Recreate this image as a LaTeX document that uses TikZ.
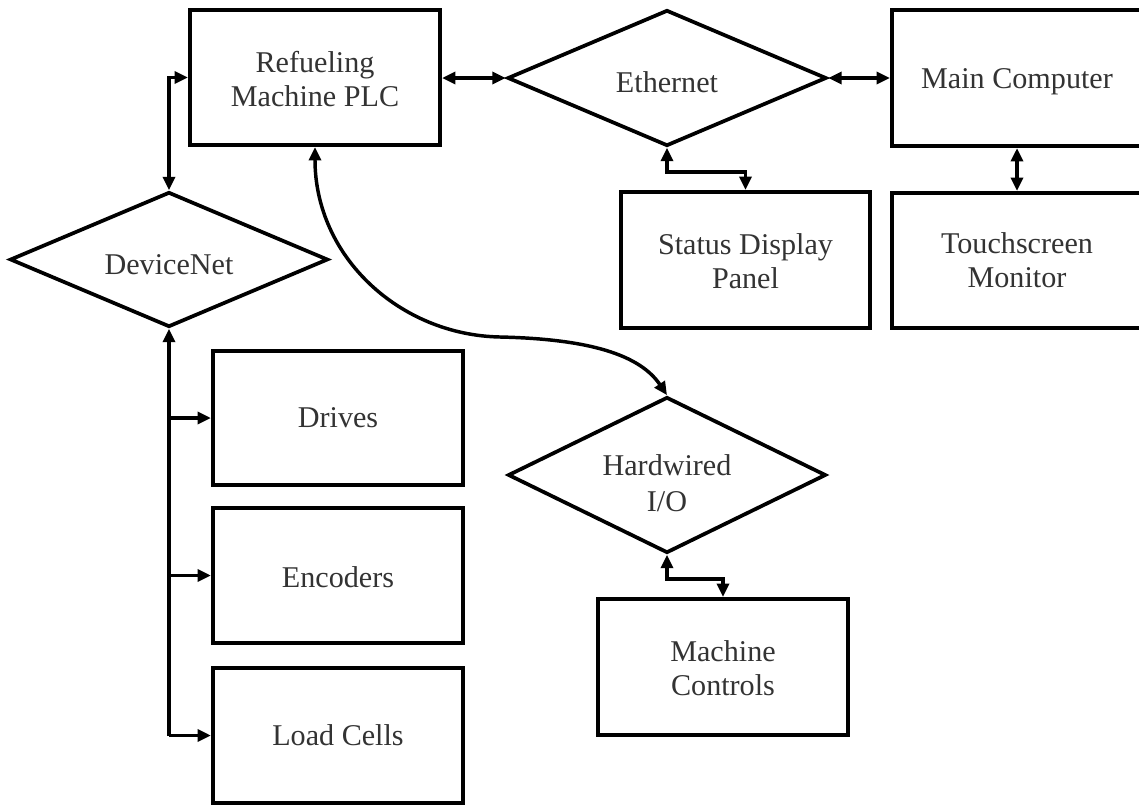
\documentclass[tikz,border=0pt]{standalone}
\usepackage{fontspec}
\setmainfont{Liberation Serif}
\usetikzlibrary{shapes.geometric,arrows.meta}
\newcommand\lift[1]{\rule{0pt}{#1}}
\tikzset{
  box/.style={draw=black, line width=3.2pt, rectangle, inner sep=0pt, align=center,
    text=black!80, font=\fontsize{22.6}{25.5}\selectfont},
  dia/.style={draw=black, line width=2.8pt, diamond, aspect=2.3, inner sep=0pt, align=center,
    text=black!80, font=\fontsize{22.6}{25.5}\selectfont},
  sz/.style 2 args={minimum width=0.75*#1 pt, minimum height=0.75*#2 pt},
  tip/.tip={Triangle[length=10pt,width=9pt]},
  link/.style={line width=2.6pt, tip-tip},
  onearrow/.style={line width=2.6pt, -tip},
}
\begin{document}
\begin{tikzpicture}[x=0.75pt,y=-0.75pt]
\clip (0,0) rectangle (1139,808);
\fill[white] (0,0) rectangle (1139,808);

\node[box, sz={250}{135}] (plc) at (315,77.5) {\lift{18pt}Refueling\\Machine PLC};
\node[dia, sz={319}{136}] (eth) at (667,78) {\lift{22.5pt}Ethernet};
\node[box, sz={250}{136}] (main) at (1017,78) {\lift{21pt}Main Computer};
\node[box, sz={249}{136}] (status) at (745.5,260) {\lift{18pt}Status Display\\Panel};
\node[box, sz={250}{135}] (touch) at (1017,260.5) {Touchscreen\\Monitor};
\node[dia, sz={318}{135}] (dnet) at (169,259.5) {\lift{23pt}DeviceNet};
\node[box, sz={250}{134}] (drives) at (338,418) {Drives};
\node[box, sz={250}{135}] (enc) at (338,575.5) {\lift{17.5pt}Encoders};
\node[box, sz={250}{135}] (load) at (338,735.5) {Load Cells};
\node[dia, sz={318}{156}] (hw) at (667,475) {\lift{28pt}Hardwired\\[2pt]I/O};
\node[box, sz={250}{136}] (mc) at (723,667) {\lift{17pt}Machine\\Controls};

% PLC <-> DeviceNet
\draw[link] (plc.west) -| (dnet.north);
% PLC <-> Ethernet
\draw[link] (plc.east |- eth.west) -- (eth.west);
% Ethernet <-> Main Computer
\draw[link] (eth.east) -- (main.west |- eth.east);
% Main Computer <-> Touchscreen
\draw[link] (main.south) -- (touch.north);
% Ethernet <-> Status
\draw[link] (eth.south) -- ++(0,24) -| (status.north);
% PLC <-> Hardwired (curve)
\draw[link] (plc.south) .. controls ++(0,110) and (400,335) .. (500,337)
  .. controls (590,339) and (640,355) .. (hw.north);
% Hardwired <-> Machine Controls
\draw[link] (hw.south) -- ++(0,24) -| (mc.north);
% DeviceNet bus
\draw[line width=2.6pt, tip-] (dnet.south) -- (dnet.south |- load.west);
\draw[onearrow] (dnet.south |- drives.west) -- (drives.west);
\draw[onearrow] (dnet.south |- enc.west) -- (enc.west);
\draw[onearrow] (dnet.south |- load.west) -- (load.west);
\end{tikzpicture}
\end{document}
